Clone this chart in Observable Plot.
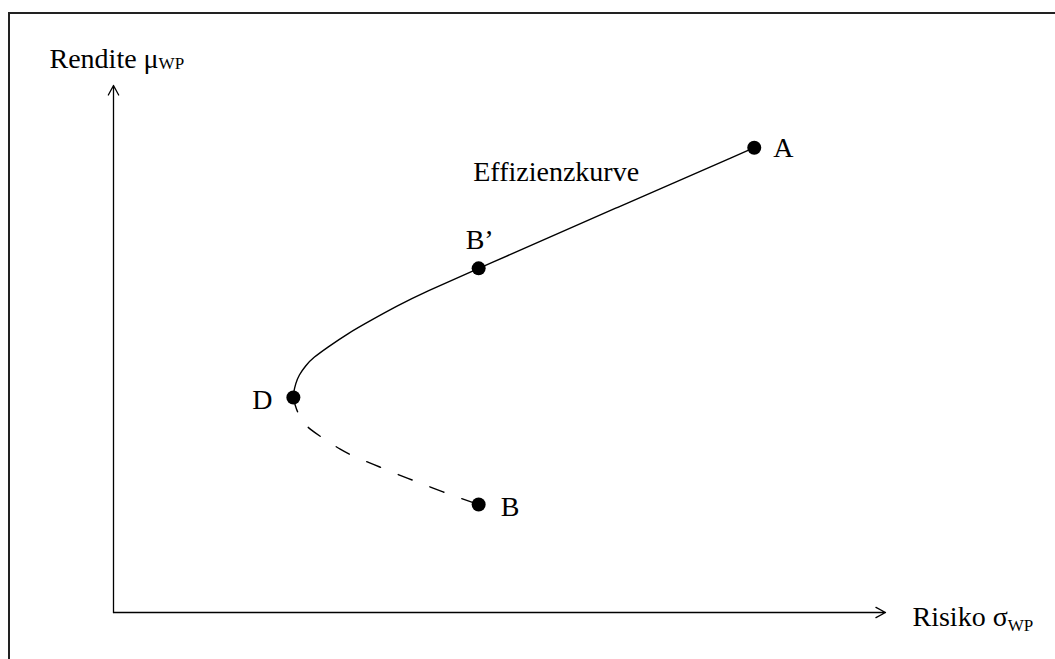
<!DOCTYPE html>
<html>
<head>
<meta charset="utf-8">
<script src="https://cdn.jsdelivr.net/npm/d3@7"></script>
<script src="https://cdn.jsdelivr.net/npm/@observablehq/plot@0.6"></script>
<style>
  html, body { margin: 0; padding: 0; background: #fff; }
  #wrap { position: relative; width: 1055px; height: 659px; overflow: hidden; }
  #border { position: absolute; left: 8px; top: 12px; width: 1200px; height: 800px;
            border-left: 2px solid #222; border-top: 2px solid #222; pointer-events: none; }
  #chart { position: absolute; left: 0; top: 0; }
</style>
</head>
<body>
<div id="wrap"><div id="chart"></div><div id="border"></div></div>
<script>
// ---- data (risk σ, return μ) ----
const pointLabels = ["A", "B’", "D", "B"];
const pointRisk   = [8.30, 4.73, 2.33, 4.73];
const pointReturn = [8.82, 6.53, 4.08, 2.05];

// efficient branch (solid) from D up to A
const effRisk   = [2.33, 2.33, 2.36, 2.40, 2.49, 2.59, 2.77, 3.03, 3.33, 3.69, 4.02, 4.73, 6.50, 8.30];
const effReturn = [4.08, 4.16, 4.35, 4.50, 4.69, 4.84, 5.03, 5.29, 5.54, 5.83, 6.07, 6.53, 7.67, 8.82];

// inefficient branch (dashed) from D down to B
const ineffRisk   = [2.33, 2.36, 2.45, 2.55, 2.72, 2.94, 3.14, 3.37, 3.58, 3.82, 4.02, 4.28, 4.47, 4.73];
const ineffReturn = [4.08, 3.87, 3.61, 3.47, 3.30, 3.09, 2.94, 2.81, 2.68, 2.54, 2.43, 2.28, 2.18, 2.05];

const curveLabel = ["Effizienzkurve"];
const curveLabelRisk = [4.66];
const curveLabelReturn = [8.36];

const axisMax = 10;
const xTitle = "Risiko σ", xTitleSub = "WP";
const yTitle = "Rendite μ", yTitleSub = "WP";

// ---- tables built from the arrays ----
const points = pointLabels.map((l, i) => ({label: l, risk: pointRisk[i], ret: pointReturn[i]}));
const eff = effRisk.map((r, i) => ({risk: r, ret: effReturn[i]}));
const ineff = ineffRisk.map((r, i) => ({risk: r, ret: ineffReturn[i]}));
const curveText = curveLabel.map((t, i) => ({text: t, risk: curveLabelRisk[i], ret: curveLabelReturn[i]}));
const axes = [
  {x1: 0, y1: 0, x2: axisMax, y2: 0},
  {x1: 0, y1: 0, x2: 0, y2: axisMax}
];

// label placement (style, not data)
const labelPlacement = {
  "A":  {dx: 19,  dy: 0,     anchor: "start"},
  "B’": {dx: -13, dy: -28.6, anchor: "start"},
  "D":  {dx: -21, dy: 2.4,   anchor: "end"},
  "B":  {dx: 22,  dy: 2.4,   anchor: "start"}
};

const FS = 28;
const ink = "#000";

const chart = Plot.plot({
  width: 1055,
  height: 659,
  x: {domain: [0, axisMax], range: [113, 885], axis: null},
  y: {domain: [0, axisMax], range: [612, 85], axis: null},
  style: {fontFamily: "'Liberation Serif', 'Times New Roman', serif", background: "transparent", overflow: "visible"},
  marks: [
    Plot.arrow(axes, {x1: "x1", y1: "y1", x2: "x2", y2: "y2", stroke: ink, strokeWidth: 1.3, headLength: 12.5, headAngle: 57}),
    Plot.line(eff, {x: "risk", y: "ret", curve: "basis", stroke: ink, strokeWidth: 1.4}),
    Plot.line(ineff, {x: "risk", y: "ret", curve: "basis", stroke: ink, strokeWidth: 1.4, strokeDasharray: "15,19"}),
    Plot.dot(points, {x: "risk", y: "ret", r: 7, fill: ink, stroke: "none"}),
    ...pointLabels.map(l => Plot.text(points.filter(d => d.label === l), {
      x: "risk", y: "ret", text: "label", fontSize: FS, fill: ink,
      dx: labelPlacement[l].dx, dy: labelPlacement[l].dy, textAnchor: labelPlacement[l].anchor
    })),
    Plot.text(curveText, {x: "risk", y: "ret", text: "text", fontSize: FS, fill: ink, textAnchor: "start"}),
    Plot.text([{x: 0, y: axisMax, t: yTitle}], {x: "x", y: "y", text: "t", fontSize: FS, fill: ink,
      textAnchor: "start", dx: -64, dy: -26.6}),
    Plot.text([{x: axisMax, y: 0, t: xTitle}], {x: "x", y: "y", text: "t", fontSize: FS, fill: ink,
      textAnchor: "start", dx: 27, dy: 4.4})
  ]
});

// subscripts
const allText = d3.select(chart).selectAll("text");
allText.filter(function() { return this.textContent === yTitle; })
  .append("tspan").attr("font-size", 17).attr("dy", 1.5).text(yTitleSub);
allText.filter(function() { return this.textContent === xTitle; })
  .append("tspan").attr("font-size", 17).attr("dy", 5).text(xTitleSub);

document.getElementById("chart").appendChild(chart);
</script>
</body>
</html>
